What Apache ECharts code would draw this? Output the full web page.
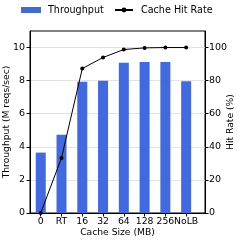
<!DOCTYPE html>
<html>
<head>
<meta charset="utf-8">
<script src="https://cdn.jsdelivr.net/npm/echarts@6/dist/echarts.min.js"></script>
<style>
html,body{margin:0;padding:0;background:#fff;}
#c{width:242px;height:241px;}
</style>
</head>
<body>
<div id="c"></div>
<script>
const categories = ['0', 'RT', '16', '32', '64', '128', '256', 'NoLB'];
const throughput = [3.65, 4.73, 7.93, 8.0, 9.08, 9.12, 9.12, 7.97];
const hitRate = [0, 33.3, 87.3, 94.0, 98.8, 99.8, 100, 100];
const leftTicks = [0, 2, 4, 6, 8, 10];
const rightTicks = [0, 20, 40, 60, 80, 100];

const xMin = -0.517, xMax = 7.908;
const idx = categories.map((c, i) => i);
const labelVals = [xMin].concat(idx, [xMax]);
const font = 'DejaVu Sans';
const chart = echarts.init(document.getElementById('c'), null, {renderer: 'canvas'});
chart.setOption({
  animation: false,
  textStyle: {fontFamily: font},
  legend: [{
    left: 21, top: 5, itemWidth: 20, itemHeight: 6, padding: 0,
    data: [{name: 'Throughput', icon: 'rect'}],
    textStyle: {fontFamily: font, fontSize: 9.6, color: '#000', padding: [0, 0, 0, 2]}
  }, {
    left: 114, top: 5, itemWidth: 18, itemHeight: 6, padding: 0,
    data: [{name: 'Cache Hit Rate'}],
    textStyle: {fontFamily: font, fontSize: 9.6, color: '#000', padding: [0, 0, 0, 3]}
  }],
  grid: {left: 30, right: 37, top: 31, bottom: 28, containLabel: false, outerBoundsMode: 'none',
         show: true, borderColor: '#000', borderWidth: 1, backgroundColor: 'transparent'},
  xAxis: {
    type: 'value', min: xMin, max: xMax,
    name: 'Cache Size (MB)', nameLocation: 'middle', nameGap: 15, nameMoveOverlap: false,
    nameTextStyle: {fontFamily: font, fontSize: 9.2, color: '#000'},
    axisLine: {show: true, onZero: false, lineStyle: {color: '#000', width: 1}},
    axisTick: {show: true, length: 3.5, customValues: idx, lineStyle: {color: '#000'}},
    axisLabel: {customValues: labelVals, interval: 0,
      formatter: v => (Number.isInteger(v) ? categories[v] : ''),
      fontFamily: font, fontSize: 9.3, color: '#000', margin: 4.5, hideOverlap: false},
    splitLine: {show: false}
  },
  yAxis: [{
    type: 'value', min: 0, max: 11,
    name: 'Throughput (M reqs/sec)', nameLocation: 'middle', nameGap: 19, nameMoveOverlap: false,
    nameTextStyle: {fontFamily: font, fontSize: 9.2, color: '#000'},
    axisLine: {show: true, onZero: false, lineStyle: {color: '#000', width: 1}},
    axisTick: {show: true, length: 3.5, customValues: leftTicks, lineStyle: {color: '#000'}},
    axisLabel: {customValues: leftTicks, fontFamily: font, fontSize: 9.5, color: '#000', margin: 5},
    splitLine: {show: true, lineStyle: {color: '#e3e3e3', width: 1}}
  }, {
    type: 'value', min: 0, max: 110, position: 'right',
    name: 'Hit Rate (%)', nameLocation: 'middle', nameGap: 21, nameMoveOverlap: false,
    nameTextStyle: {fontFamily: font, fontSize: 9.2, color: '#000'},
    axisLine: {show: true, onZero: false, lineStyle: {color: '#000', width: 1}},
    axisTick: {show: true, length: 3.5, customValues: rightTicks, lineStyle: {color: '#000'}},
    axisLabel: {customValues: rightTicks, fontFamily: font, fontSize: 9.5, color: '#000', margin: 4},
    splitLine: {show: false}
  }],
  series: [{
    name: 'Throughput', type: 'bar', yAxisIndex: 0, barWidth: 10,
    itemStyle: {color: '#4169e1'},
    data: throughput.map((v, i) => [i, v])
  }, {
    name: 'Cache Hit Rate', type: 'line', yAxisIndex: 1,
    symbol: 'circle', symbolSize: 4, showSymbol: true,
    lineStyle: {color: '#000', width: 1},
    itemStyle: {color: '#000'},
    data: hitRate.map((v, i) => [i, v]),
    z: 5
  }]
});
</script>
</body>
</html>
